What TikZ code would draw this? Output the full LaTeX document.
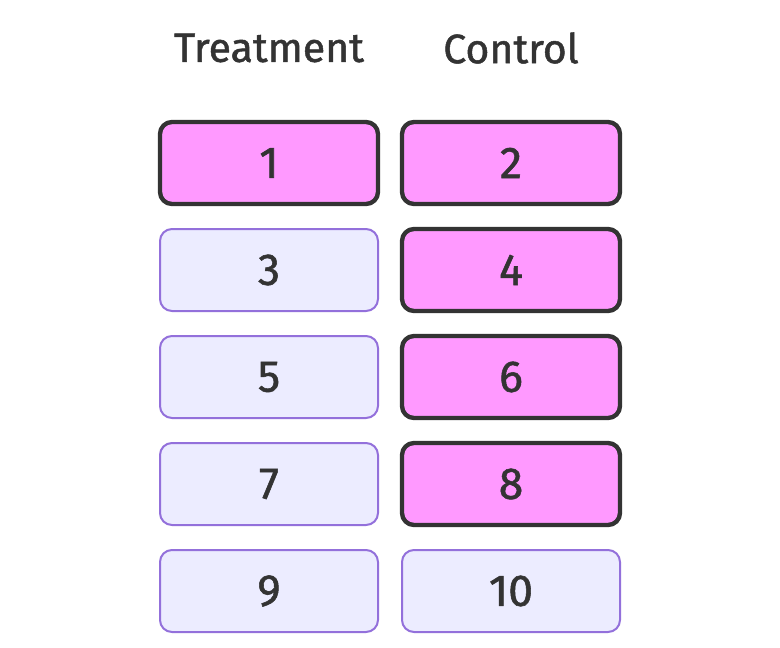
\documentclass[tikz,border=0pt]{standalone}
\usepackage{fontspec}
\setmainfont{Fira Sans}[FakeBold=1.2]
\definecolor{hitfill}{HTML}{FF99FF}
\definecolor{hitline}{HTML}{333333}
\definecolor{cellfill}{HTML}{ECECFF}
\definecolor{cellline}{HTML}{9370DB}
\tikzset{
    grp cell/.style={minimum width=0.03*218cm, minimum height=0.03*82cm,
                     rounded corners=0.36cm, fill=cellfill, draw=cellline,
                     line width=0.06cm, inner sep=0pt, text=hitline,
                     font=\fontsize{38}{42}\selectfont},
    grp hit/.style={grp cell, fill=hitfill, draw=hitline, line width=0.13cm},
    grp head/.style={text=hitline, font=\fontsize{35}{40}\selectfont},
}
\begin{document}
\begin{tikzpicture}[x=0.03cm, y=-0.03cm]
    \useasboundingbox (0,0) rectangle (780,648);
    % Column headers
    \node[grp head] (hdtr) at (269, 48) {Treatment};
    \node[grp head] (hdct) at (511, 48) {Control};
    % Treatment column
    \node[grp hit]  (tr1) at (269, 163) {1};
    \node[grp cell] (tr3) at (269, 270) {3};
    \node[grp cell] (tr5) at (269, 377) {5};
    \node[grp cell] (tr7) at (269, 484) {7};
    \node[grp cell] (tr9) at (269, 591) {9};
    % Control column
    \node[grp hit]  (ct2)  at (511, 163) {2};
    \node[grp hit]  (ct4)  at (511, 270) {4};
    \node[grp hit]  (ct6)  at (511, 377) {6};
    \node[grp hit]  (ct8)  at (511, 484) {8};
    \node[grp cell] (ct10) at (511, 591) {10};
\end{tikzpicture}
\end{document}
